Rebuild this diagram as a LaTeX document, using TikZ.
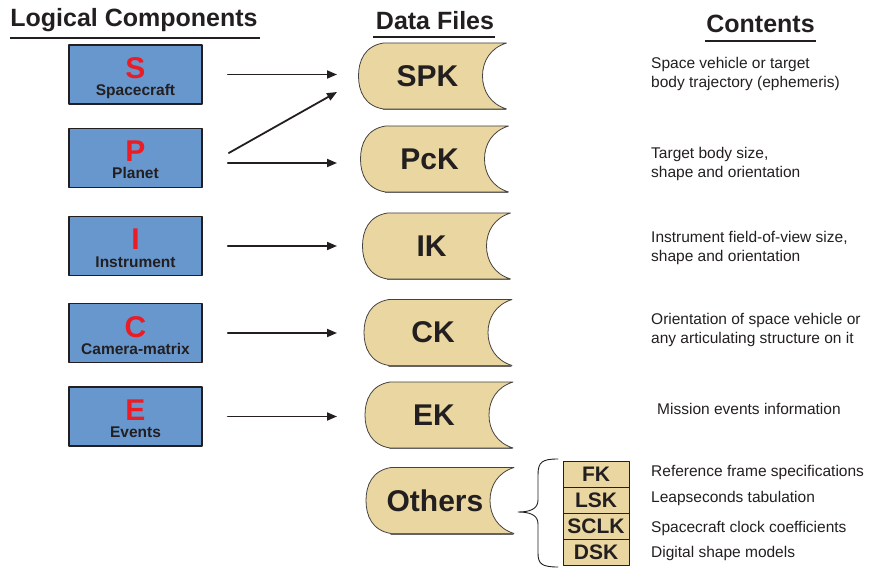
\documentclass[tikz,border=0pt]{standalone}
\usepackage{fontspec}
\setmainfont{Liberation Sans}
\usetikzlibrary{arrows.meta}
\definecolor{ink}{RGB}{35,31,32}
\definecolor{compblue}{RGB}{103,151,205}
\definecolor{letterred}{RGB}{237,28,36}
\definecolor{filetan}{RGB}{233,214,160}
\begin{document}
\begin{tikzpicture}[x=1pt,y=-1pt,line join=round,line cap=round,
	heading/.style={font=\fontsize{25}{25}\selectfont\bfseries,text=ink,inner sep=1pt},
	rule/.style={ink,line width=1.8pt,line cap=butt},
	compbox/.style={draw=ink,line width=1.6pt,fill=compblue,minimum width=133pt,minimum height=59pt,
		font=\fontsize{30}{30}\selectfont\bfseries,text=letterred,text height=22pt,text depth=14pt},
	compsub/.style={font=\fontsize{15.5}{15.5}\selectfont\bfseries,text=ink,inner sep=0pt},
	fileshape/.style={draw=ink!85,line width=0.8pt,fill=filetan},
	filelabel/.style={font=\fontsize{30}{30}\selectfont\bfseries,text=ink},
	kernel/.style={draw=ink,line width=0.9pt,fill=filetan,minimum width=66pt,minimum height=26pt,
		inner sep=0pt,font=\fontsize{21}{21}\selectfont\bfseries,text=ink},
	info/.style={font=\fontsize{15.5}{19}\selectfont,text=ink,align=left,inner sep=0pt},
	link/.style={ink,line width=1.8pt,-{Triangle[length=10pt,width=8pt]}}]
	\useasboundingbox (0,0) rectangle (869,569);

	% headings
	\node[heading,anchor=base] (hlogical) at (134,27) {Logical Components};
	\node[heading,anchor=base] (hfiles) at (435,30) {Data Files};
	\node[heading,anchor=base] (hcontents) at (760.5,33) {Contents};
	\draw[rule] (10,38) -- (260,38);
	\draw[rule] (373,37) -- (495,37);
	\draw[rule] (705,41) -- (816,41);

	% logical components
	\node[compbox] (s) at (135.5,74.5) {S};
	\node[compbox] (p) at (135.5,158) {P};
	\node[compbox] (i) at (135.5,246) {I};
	\node[compbox] (c) at (135.5,333) {C};
	\node[compbox] (e) at (135.5,416.5) {E};
	\foreach \nm/\lab in {s/Spacecraft, p/Planet, i/Instrument, c/Camera-matrix, e/Events}
		\node[compsub,anchor=base] (\nm-sub) at ([yshift=-21pt]\nm.center) {\lab};

	% data files
	\foreach \nm/\cx/\cy/\lab in {spk/432.5/76/SPK, pck/434.5/159/PcK, ik/436.5/246/IK,
		ck/438/332.5/CK, ek/439/415/EK, others/440/500.5/Others}{
		\filldraw[fileshape,shift={(\cx,\cy)}] (-49,-33) -- (74,-33)
			.. controls (58,-28) and (50,-15) .. (50,0)
			.. controls (50,15) and (58,28) .. (74,33) -- (-49,33)
			.. controls (-68,30) and (-74,15) .. (-74,0)
			.. controls (-74,-15) and (-68,-30) .. (-49,-33) -- cycle;
		\draw[ink!70,line width=1.4pt,shift={(\cx,\cy)}] (-49,33.3) -- (73,33.3);
		\node[filelabel] (\nm) at (\cx-5,\cy) {\lab};
	}

	% arrows
	\coordinate (tip) at (337,0);
	\coordinate (spkin) at ([yshift=-16pt]spk.center);
	\draw[link] ([xshift=25pt]s.east) coordinate (sout) -- (tip |- sout);
	\draw[link] ([xshift=26pt,yshift=5pt]p.east) -- (tip |- spkin);
	\draw[link] ([xshift=25pt,yshift=-5pt]p.east) coordinate (pout) -- (tip |- pout);
	\draw[link] ([xshift=25pt]i.east) coordinate (iout) -- (tip |- iout);
	\draw[link] ([xshift=25pt]c.east) coordinate (cout) -- (tip |- cout);
	\draw[link] ([xshift=25pt]e.east) coordinate (eout) -- (tip |- eout);

	% other kernels
	\node[kernel] (fk) at (596,474) {FK};
	\node[kernel] (lsk) at (596,500) {LSK};
	\node[kernel] (sclk) at (596,526) {SCLK};
	\node[kernel] (dsk) at (596,552) {DSK};
	\draw[ink,line width=0.9pt] (558,459) .. controls (542,459) and (538,462) .. (538,475)
		-- (538,500) .. controls (538,509) and (530,512) .. (518,512)
		.. controls (530,512) and (538,515) .. (538,524)
		-- (538,553) .. controls (538,564) and (542,567) .. (558,567);

	% contents
	\node[info,anchor=west] (spk-info) at (651,73.5) {Space vehicle or target\\body trajectory (ephemeris)};
	\node[info,anchor=west] (pck-info) at (651,163.5) {Target body size,\\shape and orientation};
	\node[info,anchor=west] (ik-info) at (651,247.5) {Instrument field-of-view size,\\shape and orientation};
	\node[info,anchor=west] (ck-info) at (651,329.5) {Orientation of space vehicle or\\any articulating structure on it};
	\node[info,anchor=base west] (ek-info) at (657,414) {Mission events information};
	\node[info,anchor=base west] (fk-info) at (651,476) {Reference frame specifications};
	\node[info,anchor=base west] (lsk-info) at (651,502) {Leapseconds tabulation};
	\node[info,anchor=base west] (sclk-info) at (651,532) {Spacecraft clock coefficients};
	\node[info,anchor=base west] (dsk-info) at (651,557) {Digital shape models};
\end{tikzpicture}
\end{document}
